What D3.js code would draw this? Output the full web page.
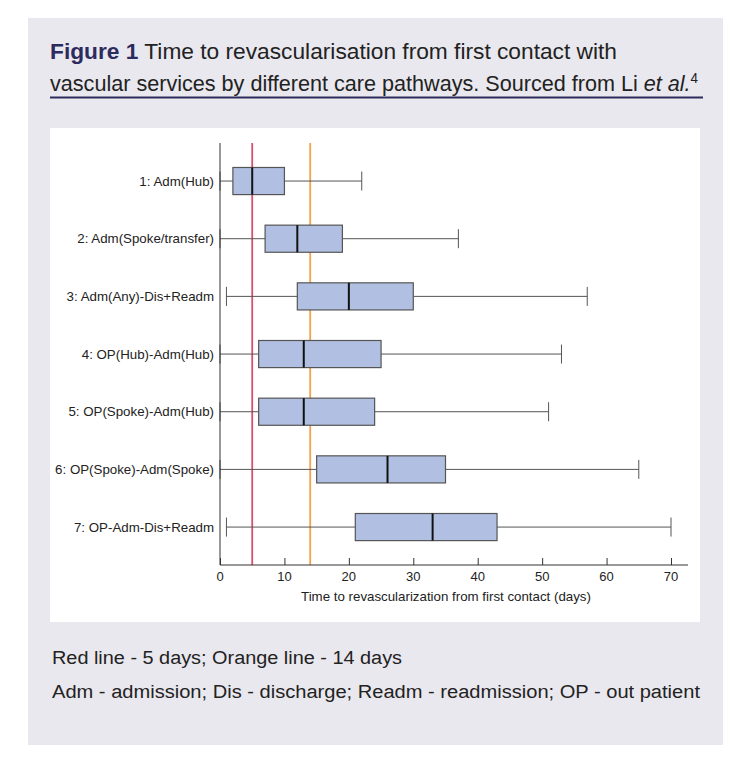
<!DOCTYPE html>
<html>
<head>
<meta charset="utf-8">
<script src="https://cdn.jsdelivr.net/npm/d3@7"></script>
<style>
  body { margin: 0; background: #fff; }
  svg text { font-family: "Liberation Sans", Arial, sans-serif; }
</style>
</head>
<body>
<svg id="fig" width="750" height="760"></svg>
<script>
// care pathways and box stats (days)
const pathways = ["1: Adm(Hub)", "2: Adm(Spoke/transfer)", "3: Adm(Any)-Dis+Readm",
    "4: OP(Hub)-Adm(Hub)", "5: OP(Spoke)-Adm(Hub)", "6: OP(Spoke)-Adm(Spoke)", "7: OP-Adm-Dis+Readm"];
const lowWhisker = [0, 0, 1, 0, 0, 0, 1];
const q1 = [2, 7, 12, 6, 6, 15, 21];
const median = [5, 12, 20, 13, 13, 26, 33];
const q3 = [10, 19, 30, 25, 24, 35, 43];
const highWhisker = [22, 37, 57, 53, 51, 65, 70];
const xTicks = [0, 10, 20, 30, 40, 50, 60, 70];
const refLines = [{ v: 5, color: "#d94f72" }, { v: 14, color: "#f2a24a" }];

let svg = d3.select("#fig");

// grey panel
svg.append("rect").attr("x", 28).attr("y", 18).attr("width", 695).attr("height", 727).attr("fill", "#e9e8ee");

// caption (condensed look via textLength)
let cap = svg.append("text").attr("x", 50).attr("y", 58.5)
    .attr("font-size", 22.5).attr("fill", "#222")
    .attr("textLength", 567).attr("lengthAdjust", "spacingAndGlyphs");
cap.append("tspan").attr("font-weight", "bold").attr("fill", "#2d2b5e").text("Figure 1");
cap.append("tspan").text(" Time to revascularisation from first contact with");
let cap2 = svg.append("text").attr("x", 50).attr("y", 91).attr("font-size", 22.5).attr("fill", "#222")
    .attr("textLength", 648).attr("lengthAdjust", "spacingAndGlyphs");
cap2.append("tspan").text("vascular services by different care pathways. Sourced from Li ");
cap2.append("tspan").attr("font-style", "italic").text("et al.");
cap2.append("tspan").attr("font-size", 14).attr("dy", -8).text("4");
svg.append("line").attr("x1", 50).attr("x2", 703).attr("y1", 97.5).attr("y2", 97.5)
    .attr("stroke", "#2d2b5e").attr("stroke-width", 2.2);

// chart panel
svg.append("rect").attr("x", 50).attr("y", 128).attr("width", 650).attr("height", 494).attr("fill", "#fff");

let x = d3.scaleLinear().domain([0, 70]).range([220, 671]);
let y = d3.scaleBand().domain(pathways).range([152.2, 555.9]).paddingInner(0.53).paddingOuter(0.265);
const plotTop = 143, plotBottom = 565;

// reference lines
refLines.forEach(function (r) {
    svg.append("line").attr("x1", x(r.v)).attr("x2", x(r.v)).attr("y1", plotTop).attr("y2", plotBottom)
        .attr("stroke", r.color).attr("stroke-width", 1.8);
});

let rows = svg.selectAll(".row").data(pathways).enter().append("g").attr("class", "row");
rows.each(function (d, i) {
    let g = d3.select(this);
    let cy = y(d) + y.bandwidth() / 2;
    let h = y.bandwidth();
    g.append("line").attr("x1", x(lowWhisker[i])).attr("x2", x(q1[i])).attr("y1", cy).attr("y2", cy)
        .attr("stroke", "#555").attr("stroke-width", 1);
    g.append("line").attr("x1", x(q3[i])).attr("x2", x(highWhisker[i])).attr("y1", cy).attr("y2", cy)
        .attr("stroke", "#555").attr("stroke-width", 1);
    [lowWhisker[i], highWhisker[i]].forEach(function (v) {
        g.append("line").attr("x1", x(v)).attr("x2", x(v)).attr("y1", cy - 9.5).attr("y2", cy + 9.5)
            .attr("stroke", "#555").attr("stroke-width", 1);
    });
    g.append("rect").attr("x", x(q1[i])).attr("y", y(d)).attr("width", x(q3[i]) - x(q1[i])).attr("height", h)
        .attr("fill", "#b1c0e2").attr("stroke", "#555").attr("stroke-width", 1.2);
    g.append("line").attr("x1", x(median[i])).attr("x2", x(median[i])).attr("y1", y(d)).attr("y2", y(d) + h)
        .attr("stroke", "#111").attr("stroke-width", 2);
    g.append("text").attr("x", 214).attr("y", cy).attr("dy", "0.35em").attr("text-anchor", "end")
        .attr("font-size", 13.3).attr("fill", "#222").text(d);
});

// axes
svg.append("line").attr("x1", 220).attr("x2", 220).attr("y1", plotTop).attr("y2", plotBottom)
    .attr("stroke", "#333").attr("stroke-width", 1);
let xAxis = svg.append("g").attr("transform", "translate(0," + plotBottom + ")")
    .call(d3.axisTop(x).tickValues(xTicks).tickSize(7).tickFormat(""));
xAxis.select(".domain").remove();
xAxis.selectAll("line").attr("stroke", "#333");
svg.append("line").attr("x1", 220).attr("x2", 688).attr("y1", plotBottom).attr("y2", plotBottom)
    .attr("stroke", "#333").attr("stroke-width", 1);
svg.selectAll(".xlab").data(xTicks).enter().append("text").attr("class", "xlab")
    .attr("x", function (d) { return x(d); }).attr("y", 580.5).attr("text-anchor", "middle")
    .attr("font-size", 13).attr("fill", "#222").text(function (d) { return d; });
svg.append("text").attr("x", 446).attr("y", 600.5).attr("text-anchor", "middle")
    .attr("font-size", 13.3).attr("fill", "#222")
    .text("Time to revascularization from first contact (days)");

// notes
svg.append("text").attr("x", 52).attr("y", 664).attr("font-size", 18).attr("fill", "#222")
    .attr("textLength", 350).attr("lengthAdjust", "spacingAndGlyphs")
    .text("Red line - 5 days; Orange line - 14 days");
svg.append("text").attr("x", 52).attr("y", 697.5).attr("font-size", 18).attr("fill", "#222")
    .attr("textLength", 648).attr("lengthAdjust", "spacingAndGlyphs")
    .text("Adm - admission; Dis - discharge; Readm - readmission; OP - out patient");
</script>
</body>
</html>
